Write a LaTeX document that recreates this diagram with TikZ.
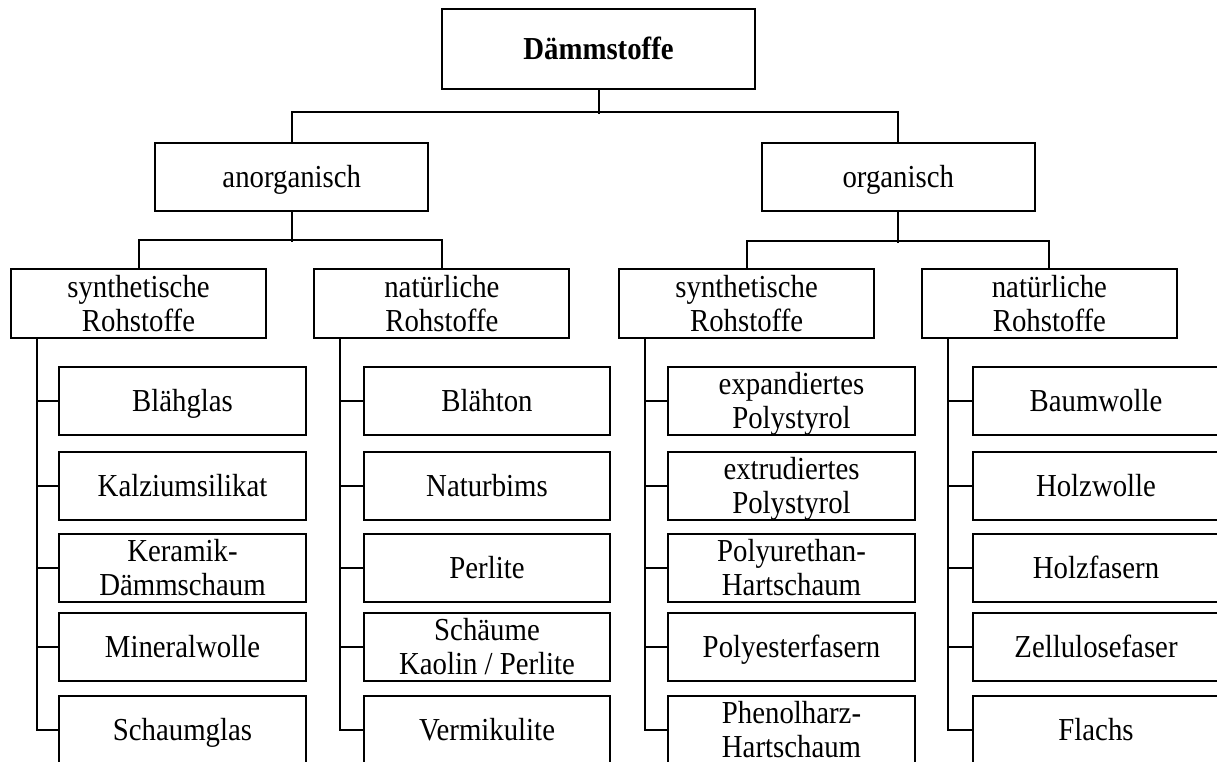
\documentclass[tikz,border=0pt]{standalone}
\usepackage{fontspec}
\setmainfont{Liberation Serif}[FakeStretch=0.9]
\begin{document}
\begin{tikzpicture}[x=1pt,y=-1pt,
  box/.style={draw=black,line width=2pt,inner sep=0pt,align=center,
    font=\fontsize{32}{34}\selectfont,text height=21pt,text depth=0pt},
  two/.style={text height=55pt,text depth=0pt},
  topbox/.style={box,minimum width=313pt,minimum height=80pt,font=\fontsize{32}{34}\selectfont\bfseries},
  midbox/.style={box,minimum width=273pt,minimum height=68pt},
  headbox/.style={box,minimum width=255pt,minimum height=69pt,two},
  leafbox/.style={box,minimum width=246.5pt,minimum height=68pt},
  conn/.style={line width=2pt,line cap=rect}]
\useasboundingbox (0,0) rectangle (1217,762);
\clip (0,0) rectangle (1217,762);
\fill[white] (0,0) rectangle (1217,762);

\node[topbox] (top) at (598.5,49) {Dämmstoffe};
\node[midbox] (ano) at (291.8,177) {anorganisch};
\node[midbox] (org) at (898.3,177) {organisch};

\node[headbox] (sA) at (138.5,303.5) {synthetische\\Rohstoffe};
\node[headbox] (sB) at (441.9,303.5) {natürliche\\Rohstoffe};
\node[headbox] (sC) at (746.6,303.5) {synthetische\\Rohstoffe};
\node[headbox] (sD) at (1049.4,303.5) {natürliche\\Rohstoffe};

% leaves column A
\node[leafbox] (a1) at (182.5,401) {Blähglas};
\node[leafbox] (a2) at (182.5,485.5) {Kalziumsilikat};
\node[leafbox,two] (a3) at (182.5,568) {Keramik-\\Dämmschaum};
\node[leafbox] (a4) at (182.5,647) {Mineralwolle};
\node[leafbox] (a5) at (182.5,730) {Schaumglas};
% column B
\node[leafbox] (b1) at (487,401) {Blähton};
\node[leafbox] (b2) at (487,485.5) {Naturbims};
\node[leafbox] (b3) at (487,568) {Perlite};
\node[leafbox,two] (b4) at (487,647) {Schäume\\Kaolin / Perlite};
\node[leafbox] (b5) at (487,730) {Vermikulite};
% column C
\node[leafbox,two] (c1) at (791.5,401) {expandiertes\\Polystyrol};
\node[leafbox,two] (c2) at (791.5,485.5) {extrudiertes\\Polystyrol};
\node[leafbox,two] (c3) at (791.5,568) {Polyurethan-\\Hartschaum};
\node[leafbox] (c4) at (791.5,647) {Polyesterfasern};
\node[leafbox,two] (c5) at (791.5,730) {Phenolharz-\\Hartschaum};
% column D
\node[leafbox] (d1) at (1096,401) {Baumwolle};
\node[leafbox] (d2) at (1096,485.5) {Holzwolle};
\node[leafbox] (d3) at (1096,568) {Holzfasern};
\node[leafbox] (d4) at (1096,647) {Zellulosefaser};
\node[leafbox] (d5) at (1096,730) {Flachs};

% connectors top level
\draw[conn] (top.south) -- ++(0,23);
\draw[conn] (ano.north) -- ++(0,-30) -| (org.north);
\draw[conn] (ano.south) -- ++(0,29);
\draw[conn] (sA.north) -- ++(0,-28) -| (sB.north);
\draw[conn] (org.south) -- ++(0,30);
\draw[conn] (sC.north) -- ++(0,-27) -| (sD.north);

% trunks
\foreach \c/\s in {a/sA,b/sB,c/sC,d/sD}{
  \coordinate (t\c) at ([xshift=27pt]\s.south west);
  \draw[conn] (t\c) |- (\c5.west);
  \foreach \i in {1,2,3,4}{
    \draw[conn] (\c\i.west) -- (t\c |- \c\i.west);
  }
}
\end{tikzpicture}
\end{document}
